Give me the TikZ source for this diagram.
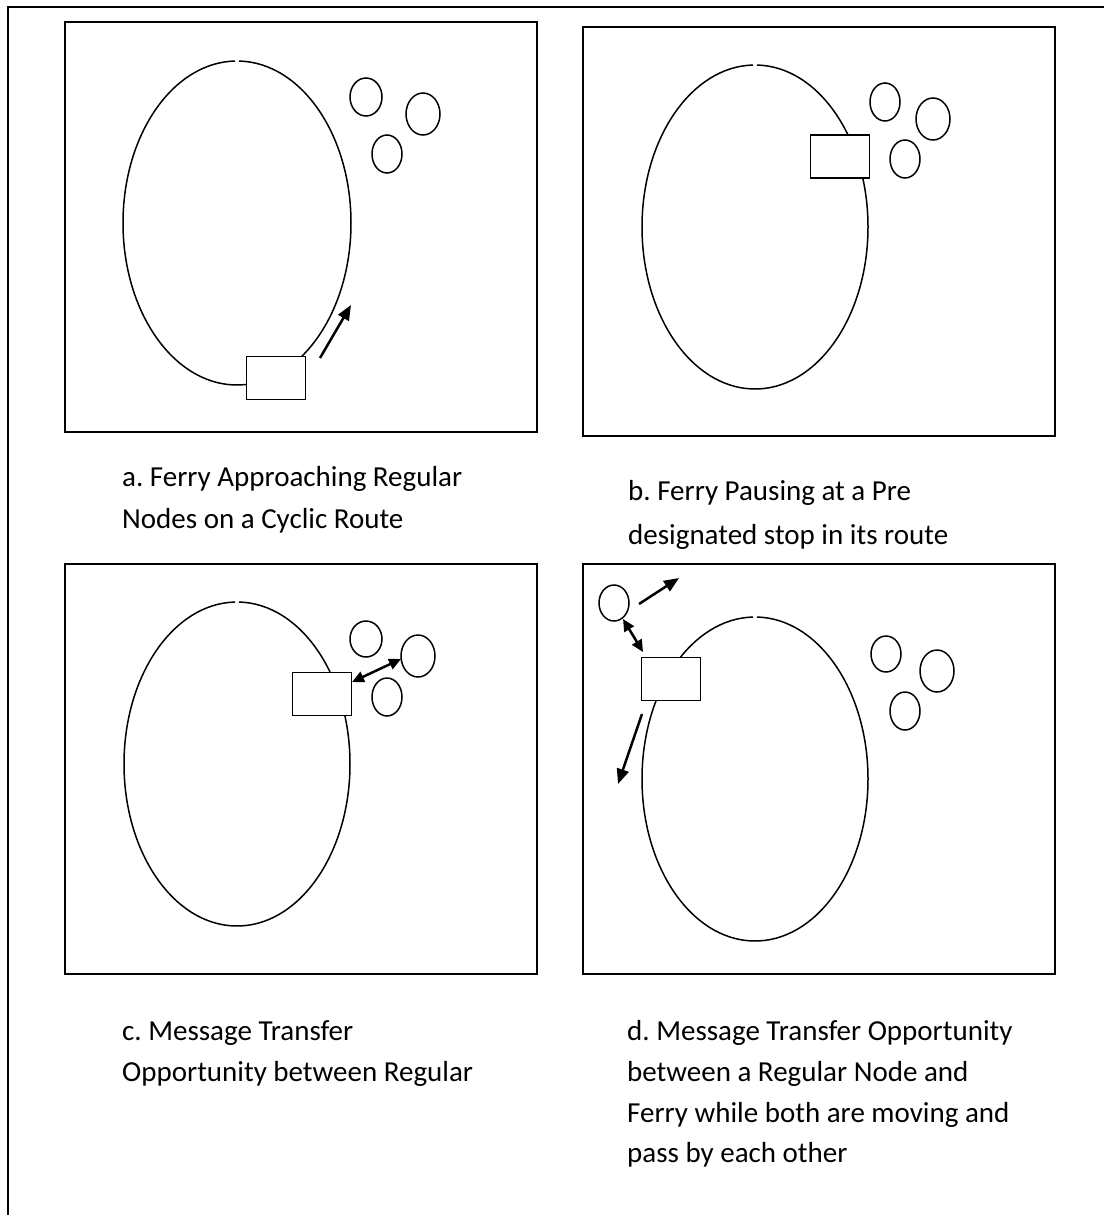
\documentclass[tikz,border=0pt]{standalone}
\usepackage{fontspec}
\setmainfont{Carlito}
\usetikzlibrary{arrows.meta,shapes.geometric}
\begin{document}
\frenchspacing
\begin{tikzpicture}[x=1pt,y=-1pt,
  frame/.style={line width=2pt},
  route/.style={line width=1.5pt},
  ferry/.style={draw,fill=white,line width=1.8pt,inner sep=0pt,minimum width=59pt,minimum height=43pt},
  reg/.style={draw,ellipse,line width=1.5pt,inner sep=0pt,minimum width=30pt,minimum height=37pt},
  regbig/.style={reg,minimum width=34pt,minimum height=42pt},
  mv/.style={line width=2.5pt,-{Triangle[length=15pt,width=12pt]}},
  dbl/.style={line width=2.5pt,{Triangle[length=12pt,width=11pt]}-{Triangle[length=12pt,width=11pt]}},
  captxt/.style={anchor=base west,inner sep=0pt,font=\fontsize{29}{41}\selectfont}
]
\useasboundingbox (0,0) rectangle (1104,1215);
% outer frame
\draw[frame] (1104,7) -- (8,7) -- (8,1215);
% panels
\draw[frame] (65,22) rectangle (537,432);
\draw[frame] (583,27) rectangle (1055,436);
\draw[frame] (65,564) rectangle (537,974);
\draw[frame] (583,564) rectangle (1055,974);

% routes (ellipses with a tiny gap on top)
\draw[route] (237,223) ++(271:114 and 162) arc[start angle=271,end angle=629,x radius=114,y radius=162];
\draw[route] (755,227) ++(271:113 and 162) arc[start angle=271,end angle=629,x radius=113,y radius=162];
\draw[route] (237,764) ++(271:113 and 162) arc[start angle=271,end angle=629,x radius=113,y radius=162];
\draw[route] (755,779) ++(271:113 and 162) arc[start angle=271,end angle=629,x radius=113,y radius=162];

% panel a
\node[ferry] (fa) at (276,378) {};
\node[reg,minimum width=32pt,minimum height=38pt] (a1) at (366,97) {};
\node[regbig] (a2) at (423,114) {};
\node[reg,minimum height=38pt] (a3) at (387,154) {};
\coordinate (as) at (320,358);
\coordinate (ae) at (351,305);
\draw[mv] (as) -- (ae);

% panel b
\node[ferry] (fb) at (840,156.5) {};
\node[reg,minimum height=38pt] (b1) at (885,102) {};
\node[regbig] (b2) at (933,119) {};
\node[reg,minimum height=38pt] (b3) at (905,159) {};

% panel c
\node[ferry] (fc) at (322,694) {};
\node[reg,minimum width=32pt,minimum height=36pt] (c1) at (366,639) {};
\node[regbig] (c2) at (418,656) {};
\node[reg,minimum height=38pt] (c3) at (387,697) {};
\coordinate (cs) at (352,682);
\coordinate (ce) at (401,659);
\draw[dbl] (cs) -- (ce);

% panel d
\node[ferry] (fd) at (671,679) {};
\node[reg,minimum height=36pt] (d0) at (614,603) {};
\node[reg,minimum height=36pt] (d1) at (886,654) {};
\node[regbig] (d2) at (937,671) {};
\node[reg,minimum height=38pt] (d3) at (905,711) {};
\coordinate (d0s) at (639,604);
\coordinate (d0e) at (679,578);
\draw[mv] (d0s) -- (d0e);
\coordinate (dds) at (623,619);
\coordinate (dde) at (643,652);
\draw[dbl] (dds) -- (dde);
\coordinate (dms) at (642,714);
\coordinate (dme) at (618,784);
\draw[mv] (dms) -- (dme);

% captions
\node[captxt] (capa1) at (122,486) {a. Ferry Approaching Regular};
\node[captxt] (capa2) at (122,528) {Nodes on a Cyclic Route};
\node[captxt] (capb1) at (628,500) {b. Ferry Pausing at a Pre};
\node[captxt] (capb2) at (628,544) {designated stop in its route};
\node[captxt] (capc1) at (122,1040) {c. Message Transfer};
\node[captxt] (capc2) at (122,1081) {Opportunity between Regular};
\node[captxt] (capd1) at (627,1040) {d. Message Transfer Opportunity};
\node[captxt] (capd2) at (627,1081) {between a Regular Node and};
\node[captxt] (capd3) at (627,1122) {Ferry while both are moving and};
\node[captxt] (capd4) at (627,1162) {pass by each other};
\end{tikzpicture}
\end{document}
